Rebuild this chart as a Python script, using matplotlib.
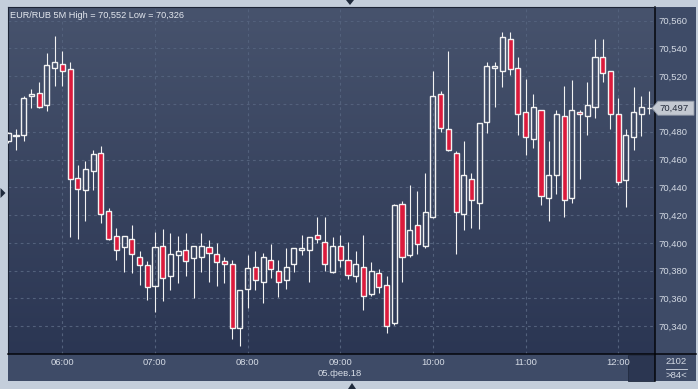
import numpy as np
import pandas as pd
import matplotlib
matplotlib.use("Agg")
import matplotlib.pyplot as plt
from matplotlib.colors import LinearSegmentedColormap
from matplotlib.patches import Rectangle, Polygon
from matplotlib.ticker import FuncFormatter, FixedLocator

# EUR/RUB 5M candles, 05.02.18 from 05:25
times = pd.date_range("2018-02-05 05:25", periods=84, freq="5min")
opens = [70.473, 70.477, 70.478, 70.506, 70.508, 70.499, 70.526, 70.529, 70.525, 70.447,
         70.438, 70.452, 70.465, 70.423, 70.405, 70.397, 70.403, 70.390, 70.384, 70.369,
         70.398, 70.376, 70.391, 70.395, 70.389, 70.390, 70.397, 70.392, 70.387, 70.385,
         70.339, 70.367, 70.383, 70.372, 70.388, 70.380, 70.373, 70.385, 70.395, 70.395,
         70.406, 70.401, 70.379, 70.398, 70.388, 70.376, 70.383, 70.363, 70.378, 70.370,
         70.342, 70.428, 70.391, 70.413, 70.398, 70.419, 70.507, 70.482, 70.465, 70.421,
         70.446, 70.429, 70.487, 70.526, 70.524, 70.547, 70.526, 70.494, 70.475, 70.496,
         70.432, 70.449, 70.491, 70.432, 70.494, 70.491, 70.498, 70.534, 70.524, 70.493,
         70.445, 70.476, 70.493, 70.497]
highs = [70.480, 70.482, 70.506, 70.511, 70.516, 70.537, 70.549, 70.538, 70.530, 70.456,
         70.459, 70.467, 70.470, 70.425, 70.411, 70.405, 70.413, 70.394, 70.387, 70.408,
         70.410, 70.407, 70.405, 70.407, 70.398, 70.407, 70.402, 70.400, 70.390, 70.388,
         70.366, 70.391, 70.394, 70.393, 70.399, 70.388, 70.396, 70.396, 70.406, 70.404,
         70.419, 70.419, 70.404, 70.406, 70.401, 70.394, 70.406, 70.386, 70.381, 70.376,
         70.428, 70.430, 70.442, 70.437, 70.450, 70.524, 70.509, 70.538, 70.466, 70.473,
         70.450, 70.486, 70.530, 70.530, 70.552, 70.552, 70.534, 70.518, 70.507, 70.496,
         70.473, 70.496, 70.513, 70.517, 70.496, 70.516, 70.547, 70.547, 70.524, 70.504,
         70.482, 70.512, 70.506, 70.509]
lows = [70.472, 70.467, 70.473, 70.497, 70.497, 70.495, 70.513, 70.513, 70.404, 70.403,
        70.416, 70.438, 70.414, 70.402, 70.388, 70.379, 70.378, 70.370, 70.359, 70.350,
        70.358, 70.366, 70.371, 70.376, 70.360, 70.379, 70.372, 70.369, 70.371, 70.331,
        70.326, 70.353, 70.366, 70.357, 70.375, 70.361, 70.367, 70.379, 70.391, 70.372,
        70.400, 70.380, 70.378, 70.383, 70.374, 70.372, 70.352, 70.362, 70.364, 70.335,
        70.341, 70.372, 70.390, 70.392, 70.396, 70.418, 70.480, 70.466, 70.392, 70.409,
        70.411, 70.410, 70.479, 70.498, 70.512, 70.521, 70.478, 70.463, 70.468, 70.427,
        70.416, 70.435, 70.419, 70.429, 70.446, 70.478, 70.490, 70.516, 70.482, 70.442,
        70.426, 70.467, 70.477, 70.493]
closes = [70.479, 70.478, 70.504, 70.507, 70.498, 70.528, 70.530, 70.524, 70.446, 70.439,
          70.453, 70.464, 70.421, 70.403, 70.395, 70.405, 70.392, 70.384, 70.368, 70.397,
          70.375, 70.392, 70.394, 70.387, 70.398, 70.398, 70.393, 70.386, 70.385, 70.339,
          70.366, 70.382, 70.373, 70.390, 70.381, 70.372, 70.383, 70.396, 70.396, 70.404,
          70.403, 70.385, 70.398, 70.388, 70.377, 70.385, 70.362, 70.380, 70.368, 70.340,
          70.427, 70.390, 70.409, 70.399, 70.422, 70.506, 70.483, 70.467, 70.422, 70.449,
          70.431, 70.486, 70.527, 70.527, 70.548, 70.525, 70.493, 70.476, 70.498, 70.434,
          70.449, 70.493, 70.431, 70.496, 70.493, 70.499, 70.534, 70.522, 70.493, 70.444,
          70.478, 70.494, 70.498, 70.497]
price_ticks = [70.34, 70.36, 70.38, 70.40, 70.42, 70.44, 70.46, 70.48, 70.50, 70.52, 70.54, 70.56]
last_price = 70.497

W, H = 698, 389
fig = plt.figure(figsize=(W / 100, H / 100), dpi=100)
fig.patch.set_facecolor("#c4cedb")
plt.rcParams["font.family"] = ["Liberation Sans", "DejaVu Sans"]


def fx(x):
    return x / W


def fy(y):
    return 1 - y / H


L, T, R, B = 8.3, 7.3, 655, 354.3
ax = fig.add_axes([fx(L), fy(B), fx(R - L), fy(T) - fy(B)])

# background gradient
cmap = LinearSegmentedColormap.from_list("bg", ["#47536d", "#2b3653"])
ax.imshow(np.linspace(0, 1, 256).reshape(-1, 1), cmap=cmap, aspect="auto",
          extent=(0, 1, 0, 1), transform=ax.transAxes, zorder=0)

x = np.arange(len(times))
o = np.array(opens); h = np.array(highs); l = np.array(lows); c = np.array(closes)
up = c >= o
top = np.maximum(o, c)
bot = np.minimum(o, c)

# wicks above and below the body
ax.vlines(x, top, h, color="#f2f2f2", lw=0.8, zorder=3)
ax.vlines(x, l, bot, color="#f2f2f2", lw=0.8, zorder=3)
height = np.maximum(top - bot, 0.0004)
ax.bar(x[up], height[up], bottom=bot[up], width=0.66, facecolor="none",
       edgecolor="#f2f2f2", lw=1.0, zorder=4)
ax.bar(x[~up], height[~up], bottom=bot[~up], width=0.66, facecolor="#dc1a3c",
       edgecolor="#f2f2f2", lw=1.0, zorder=4)

ax.set_xlim(0, (R - L) / 7.72)
ax.set_ylim(70.3198, 70.5696)

hour_idx = [i for i, t in enumerate(times) if t.minute == 0]
hour_lbl = [times[i].strftime("%H:%M") for i in hour_idx]
grid_kw = dict(color="#53617c", lw=0.8, linestyle=(0, (2.5, 3)), zorder=1)
for i in hour_idx:
    ax.axvline(i, **grid_kw)
for p in price_ticks:
    ax.axhline(p, **grid_kw)

ax.xaxis.set_major_locator(FixedLocator(hour_idx))
ax.set_xticklabels(hour_lbl)
ax.yaxis.tick_right()
ax.yaxis.set_major_locator(FixedLocator(price_ticks))
ax.yaxis.set_major_formatter(FuncFormatter(
    lambda v, _: "" if abs(v - 70.50) < 1e-6 else f"{v:.3f}".replace(".", ",")))
ax.tick_params(axis="y", length=0, pad=2.2, labelsize=6.8, labelcolor="#d4dae4")
ax.tick_params(axis="x", length=0, pad=2.6, labelsize=6.8, labelcolor="#d4dae4")
for s in ["left", "top"]:
    ax.spines[s].set_color("#1c2436")
for s in ["right", "bottom"]:
    ax.spines[s].set_color("#05070c")
    ax.spines[s].set_linewidth(1.1)

# side panels
fig.add_artist(Rectangle((fx(L), fy(381)), fx(R - L), fy(B) - fy(381),
                         transform=fig.transFigure, fc="#3e4b67", ec="none", zorder=-1))
fig.add_artist(Rectangle((fx(R), fy(381)), fx(695.7 - R), fy(T) - fy(381),
                         transform=fig.transFigure, fc="#3e4b67", ec="none", zorder=-1))
fig.add_artist(Rectangle((fx(628), fy(380.5)), fx(26), fy(355) - fy(380.5),
                         transform=fig.transFigure, fc="#2b3651", ec="#222b40", lw=0.6, zorder=-0.5))
fig.add_artist(plt.Line2D([fx(R), fx(695.7)], [fy(B), fy(B)], transform=fig.transFigure,
                          color="#05070c", lw=1.1))
fig.add_artist(plt.Line2D([fx(R), fx(R)], [fy(B), fy(381)], transform=fig.transFigure,
                          color="#05070c", lw=1.1))

# last price tag
ly = 20.7 + (70.560 - last_price) * 1000 * 1.389
tag = Polygon([(fx(652), fy(ly)), (fx(658), fy(ly - 7)), (fx(694), fy(ly - 7)),
               (fx(694), fy(ly + 7)), (fx(658), fy(ly + 7))], closed=True,
              transform=fig.transFigure, fc="#c3c8d1", ec="#8f97a6", lw=0.6, zorder=2)
fig.add_artist(tag)
fig.text(fx(674), fy(ly), f"{last_price:.3f}".replace(".", ","), ha="center", va="center",
         fontsize=6.8, color="#222a3a", zorder=3)

# texts
fig.text(fx(10), fy(15), "EUR/RUB 5M High = 70,552 Low = 70,326", ha="left", va="center",
         fontsize=6.6, color="#e4e8ef")
fig.text(fx(340), fy(374), "05.фев.18", ha="center", va="center", fontsize=6.8, color="#d4dae4")
fig.text(fx(676), fy(362), "2102", ha="center", va="center", fontsize=6.8, color="#d4dae4")
fig.add_artist(plt.Line2D([fx(666), fx(687)], [fy(368.5), fy(368.5)], transform=fig.transFigure,
                          color="#d4dae4", lw=0.6))
fig.text(fx(676), fy(375), ">84<", ha="center", va="center", fontsize=6.8, color="#d4dae4")

# small navigation arrows on the frame
fig.add_artist(Polygon([(fx(346), fy(0)), (fx(354), fy(0)), (fx(350), fy(5))], closed=True,
                       transform=fig.transFigure, fc="#1f2a3c", ec="none"))
fig.add_artist(Polygon([(fx(348), fy(389)), (fx(356), fy(389)), (fx(352), fy(383))], closed=True,
                       transform=fig.transFigure, fc="#1f2a3c", ec="none"))
fig.add_artist(Polygon([(fx(0.5), fy(188)), (fx(0.5), fy(198)), (fx(5.5), fy(193))], closed=True,
                       transform=fig.transFigure, fc="#1f2a3c", ec="none"))

fig.savefig("out.png", dpi=100, facecolor=fig.get_facecolor())
